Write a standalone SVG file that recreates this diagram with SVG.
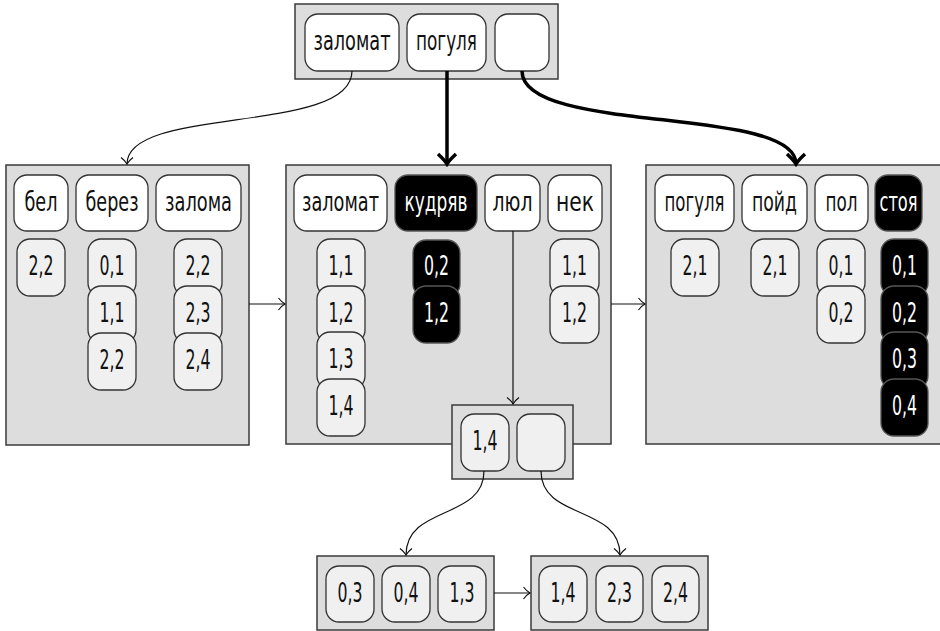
<svg xmlns="http://www.w3.org/2000/svg" width="940" height="631" viewBox="0 0 940 631">
<defs>
<style>
.box{fill:#dddddd;stroke:#3a3a3a;stroke-width:1.5}
.h{fill:#ffffff;stroke:#333;stroke-width:1.3}
.v{fill:#f0f0f0;stroke:#333;stroke-width:1.3}
.b{fill:#000000;stroke:#555;stroke-width:1.3}
text{font-family:"DejaVu Sans Condensed","DejaVu Sans",sans-serif;font-stretch:condensed;font-size:27px;text-anchor:middle;fill:#111}
text.w{fill:#ffffff}
.thin{fill:none;stroke:#111;stroke-width:1.2}
.thick{fill:none;stroke:#000;stroke-width:3.5}
</style>
<marker id="ah" markerUnits="userSpaceOnUse" viewBox="-1 -7 9 14" refX="6.5" refY="0" markerWidth="9" markerHeight="14" orient="auto">
<path d="M0,-6 Q3.5,-1.5 6.5,0 Q3.5,1.5 0,6" fill="none" stroke="#111" stroke-width="1.2"/>
</marker>
<marker id="ahb" markerUnits="userSpaceOnUse" viewBox="-3 -12 15 24" refX="9" refY="0" markerWidth="15" markerHeight="24" orient="auto">
<path d="M-1,-9 Q5,-2.5 9,0 Q5,2.5 -1,9" fill="none" stroke="#000" stroke-width="3.5"/>
</marker>
</defs>

<g id="root">
<rect class="box" x="295" y="4" width="263" height="75"/>
<rect class="h" x="305" y="14" width="94" height="57" rx="13"/>
<text x="352" y="50" textLength="77" lengthAdjust="spacingAndGlyphs">заломат</text>
<rect class="h" x="407" y="14" width="79" height="57" rx="13"/>
<text x="446.5" y="50" textLength="61" lengthAdjust="spacingAndGlyphs">погуля</text>
<rect class="h" x="495" y="14" width="54" height="57" rx="13"/>
</g>

<g id="leaf-left">
<rect class="box" x="6" y="165" width="243" height="280"/>
<rect class="h" x="14" y="175" width="54" height="56" rx="13"/>
<text x="41" y="211" textLength="33" lengthAdjust="spacingAndGlyphs">бел</text>
<rect class="h" x="76" y="175" width="72" height="56" rx="13"/>
<text x="112" y="211" textLength="53" lengthAdjust="spacingAndGlyphs">берез</text>
<rect class="h" x="156" y="175" width="85" height="56" rx="13"/>
<text x="198.5" y="211" textLength="67" lengthAdjust="spacingAndGlyphs">залома</text>
<rect class="v" x="17" y="239" width="48" height="57" rx="13"/>
<text x="41" y="275" textLength="25" lengthAdjust="spacingAndGlyphs">2,2</text>
<rect class="v" x="88" y="239" width="48" height="57" rx="13"/>
<text x="112" y="275" textLength="25" lengthAdjust="spacingAndGlyphs">0,1</text>
<rect class="v" x="88" y="286" width="48" height="57" rx="13"/>
<text x="112" y="322" textLength="25" lengthAdjust="spacingAndGlyphs">1,1</text>
<rect class="v" x="88" y="333" width="48" height="57" rx="13"/>
<text x="112" y="369" textLength="25" lengthAdjust="spacingAndGlyphs">2,2</text>
<rect class="v" x="174" y="239" width="48" height="57" rx="13"/>
<text x="198" y="275" textLength="25" lengthAdjust="spacingAndGlyphs">2,2</text>
<rect class="v" x="174" y="286" width="48" height="57" rx="13"/>
<text x="198" y="322" textLength="25" lengthAdjust="spacingAndGlyphs">2,3</text>
<rect class="v" x="174" y="333" width="48" height="57" rx="13"/>
<text x="198" y="369" textLength="25" lengthAdjust="spacingAndGlyphs">2,4</text>
</g>

<g id="leaf-middle">
<rect class="box" x="286" y="165" width="325" height="279"/>
<rect class="h" x="294" y="175" width="93" height="56" rx="13"/>
<text x="340.5" y="211" textLength="77" lengthAdjust="spacingAndGlyphs">заломат</text>
<rect class="b" x="395" y="175" width="82" height="56" rx="13"/>
<text class="w" x="436" y="211" textLength="63" lengthAdjust="spacingAndGlyphs">кудряв</text>
<rect class="h" x="485" y="175" width="55" height="56" rx="13"/>
<text x="512.5" y="211" textLength="40" lengthAdjust="spacingAndGlyphs">люл</text>
<rect class="h" x="548" y="175" width="54" height="56" rx="13"/>
<text x="575" y="211" textLength="38" lengthAdjust="spacingAndGlyphs">нек</text>
<rect class="v" x="317" y="239" width="48" height="57" rx="13"/>
<text x="341" y="275" textLength="25" lengthAdjust="spacingAndGlyphs">1,1</text>
<rect class="v" x="317" y="286" width="48" height="57" rx="13"/>
<text x="341" y="322" textLength="25" lengthAdjust="spacingAndGlyphs">1,2</text>
<rect class="v" x="317" y="332" width="48" height="57" rx="13"/>
<text x="341" y="368" textLength="25" lengthAdjust="spacingAndGlyphs">1,3</text>
<rect class="v" x="317" y="379" width="48" height="57" rx="13"/>
<text x="341" y="415" textLength="25" lengthAdjust="spacingAndGlyphs">1,4</text>
<rect class="b" x="413" y="240" width="47" height="57" rx="13"/>
<text class="w" x="436.5" y="275" textLength="25" lengthAdjust="spacingAndGlyphs">0,2</text>
<rect class="b" x="413" y="286" width="47" height="57" rx="13"/>
<text class="w" x="436.5" y="322" textLength="25" lengthAdjust="spacingAndGlyphs">1,2</text>
<rect class="v" x="550" y="239" width="49" height="57" rx="13"/>
<text x="574.5" y="275" textLength="25" lengthAdjust="spacingAndGlyphs">1,1</text>
<rect class="v" x="550" y="286" width="49" height="57" rx="13"/>
<text x="574.5" y="322" textLength="25" lengthAdjust="spacingAndGlyphs">1,2</text>
</g>

<g id="leaf-right">
<rect class="box" x="646" y="165" width="300" height="279"/>
<rect class="h" x="655" y="175" width="79" height="56" rx="13"/>
<text x="694.5" y="211" textLength="60" lengthAdjust="spacingAndGlyphs">погуля</text>
<rect class="h" x="742" y="175" width="65" height="56" rx="13"/>
<text x="774.5" y="211" textLength="45" lengthAdjust="spacingAndGlyphs">пойд</text>
<rect class="h" x="815" y="175" width="53" height="56" rx="13"/>
<text x="841.5" y="211" textLength="32" lengthAdjust="spacingAndGlyphs">пол</text>
<rect class="b" x="875" y="175" width="47" height="56" rx="13"/>
<text class="w" x="898.5" y="211" textLength="38" lengthAdjust="spacingAndGlyphs">стоя</text>
<rect class="v" x="671" y="239" width="48" height="57" rx="13"/>
<text x="695" y="275" textLength="25" lengthAdjust="spacingAndGlyphs">2,1</text>
<rect class="v" x="751" y="239" width="48" height="57" rx="13"/>
<text x="775" y="275" textLength="25" lengthAdjust="spacingAndGlyphs">2,1</text>
<rect class="v" x="817" y="239" width="48" height="57" rx="13"/>
<text x="841" y="275" textLength="25" lengthAdjust="spacingAndGlyphs">0,1</text>
<rect class="v" x="817" y="286" width="48" height="57" rx="13"/>
<text x="841" y="322" textLength="25" lengthAdjust="spacingAndGlyphs">0,2</text>
<rect class="b" x="881" y="239" width="47" height="57" rx="13"/>
<text class="w" x="904.5" y="275" textLength="25" lengthAdjust="spacingAndGlyphs">0,1</text>
<rect class="b" x="881" y="286" width="47" height="57" rx="13"/>
<text class="w" x="904.5" y="322" textLength="25" lengthAdjust="spacingAndGlyphs">0,2</text>
<rect class="b" x="881" y="332" width="47" height="57" rx="13"/>
<text class="w" x="904.5" y="368" textLength="25" lengthAdjust="spacingAndGlyphs">0,3</text>
<rect class="b" x="881" y="379" width="47" height="57" rx="13"/>
<text class="w" x="904.5" y="415" textLength="25" lengthAdjust="spacingAndGlyphs">0,4</text>
</g>

<g id="overflow">
<rect class="box" x="452" y="405" width="121" height="74"/>
<rect class="v" x="461" y="414" width="48" height="57" rx="13"/>
<text x="485" y="450" textLength="25" lengthAdjust="spacingAndGlyphs">1,4</text>
<rect class="v" x="517" y="414" width="48" height="57" rx="13"/>
</g>

<g id="overflow-left">
<rect class="box" x="317" y="556" width="177" height="74"/>
<rect class="v" x="326" y="566" width="48" height="56" rx="13"/>
<text x="350" y="602" textLength="25" lengthAdjust="spacingAndGlyphs">0,3</text>
<rect class="v" x="382" y="566" width="48" height="56" rx="13"/>
<text x="406" y="602" textLength="25" lengthAdjust="spacingAndGlyphs">0,4</text>
<rect class="v" x="438" y="566" width="48" height="56" rx="13"/>
<text x="462" y="602" textLength="25" lengthAdjust="spacingAndGlyphs">1,3</text>
</g>

<g id="overflow-right">
<rect class="box" x="531" y="556" width="177" height="74"/>
<rect class="v" x="539" y="566" width="48" height="56" rx="13"/>
<text x="563" y="602" textLength="25" lengthAdjust="spacingAndGlyphs">1,4</text>
<rect class="v" x="596" y="566" width="47" height="56" rx="13"/>
<text x="619.5" y="602" textLength="25" lengthAdjust="spacingAndGlyphs">2,3</text>
<rect class="v" x="652" y="566" width="47" height="56" rx="13"/>
<text x="675.5" y="602" textLength="25" lengthAdjust="spacingAndGlyphs">2,4</text>
</g>

<g id="connectors">
<path class="thin" d="M352,71 C352,135 127,105 127,164" marker-end="url(#ah)"/>
<path class="thick" d="M447,71 L447,164" marker-end="url(#ahb)"/>
<path class="thick" d="M522,71 C522,135 796,105 796,164" marker-end="url(#ahb)"/>
<path class="thin" d="M249,304 L285,304" marker-end="url(#ah)"/>
<path class="thin" d="M611,304 L645,304" marker-end="url(#ah)"/>
<path class="thin" d="M513,231 L513,404" marker-end="url(#ah)"/>
<path class="thin" d="M484,471 C484,520 406,505 406,555" marker-end="url(#ah)"/>
<path class="thin" d="M541,471 C541,520 620,505 620,555" marker-end="url(#ah)"/>
<path class="thin" d="M494,593 L530,593" marker-end="url(#ah)"/>
</g>
</svg>
